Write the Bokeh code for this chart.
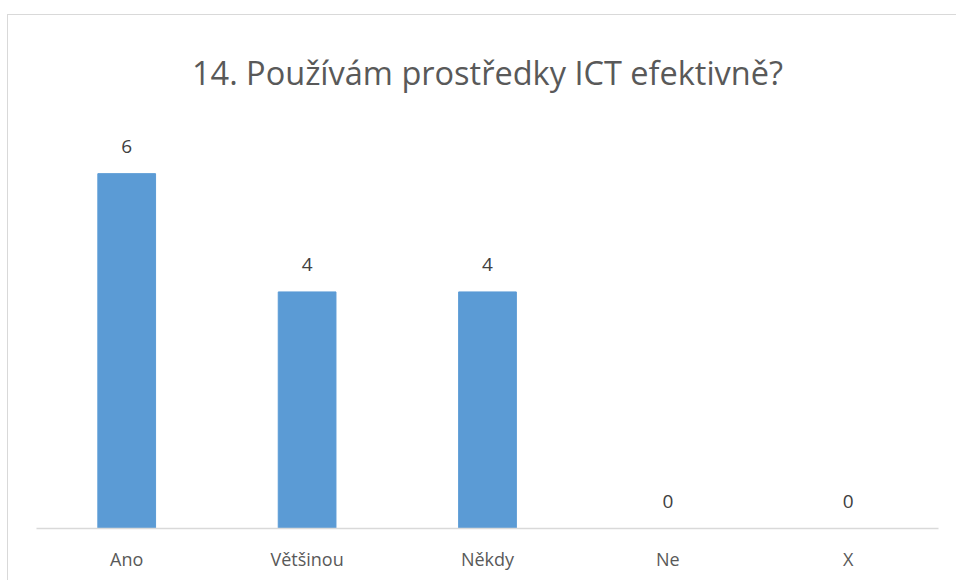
from bokeh.plotting import figure
from bokeh.models import ColumnDataSource, Range1d, FactorRange, LabelSet
from bokeh.core.properties import value
from bokeh.embed import file_html
from bokeh.resources import INLINE

categories = ["Ano", "Většinou", "Někdy", "Ne", "X"]
values = [6, 4, 4, 0, 0]
title_text = "14. Používám prostředky ICT efektivně?"

source = ColumnDataSource(data=dict(cat=categories, val=values, lab=[str(v) for v in values]))

p = figure(
    width=949, height=566,
    x_range=FactorRange(factors=categories, range_padding=0),
    y_range=Range1d(0, 7),
    output_backend="svg", toolbar_location=None,
    title=title_text,
    min_border_left=28, min_border_right=19, min_border_top=99, min_border_bottom=53,
)
p.styles = {"border-left": "1px solid #d9d9d9", "border-top": "1px solid #d9d9d9",
            "margin-top": "14px", "margin-left": "7px"}

p.title.align = "center"
p.title.text_font = "Open Sans"
p.title.text_font_size = "32.5px"
p.title.text_font_style = "normal"
p.title.text_color = "#595959"
p.title.standoff = 40

p.vbar(x="cat", top="val", width=0.32, source=source, color="#5B9BD5")

labels = LabelSet(x="cat", y="val", text="lab", source=source, y_offset=21,
                  text_align="center", text_baseline="bottom",
                  text_font=value("Open Sans"), text_font_size=value("19px"),
                  text_color=value("#404040"))
p.add_layout(labels)

p.outline_line_color = None
p.xgrid.grid_line_color = None
p.ygrid.grid_line_color = None
p.yaxis.visible = False
p.xaxis.axis_line_color = "#d9d9d9"
p.xaxis.axis_line_width = 1.5
p.xaxis.major_tick_line_color = None
p.xaxis.minor_tick_line_color = None
p.xaxis.major_label_text_font = "Open Sans"
p.xaxis.major_label_text_font_size = "18px"
p.xaxis.major_label_text_color = "#595959"
p.xaxis.major_label_standoff = 12

open("out.html", "w").write(file_html(p, INLINE))
